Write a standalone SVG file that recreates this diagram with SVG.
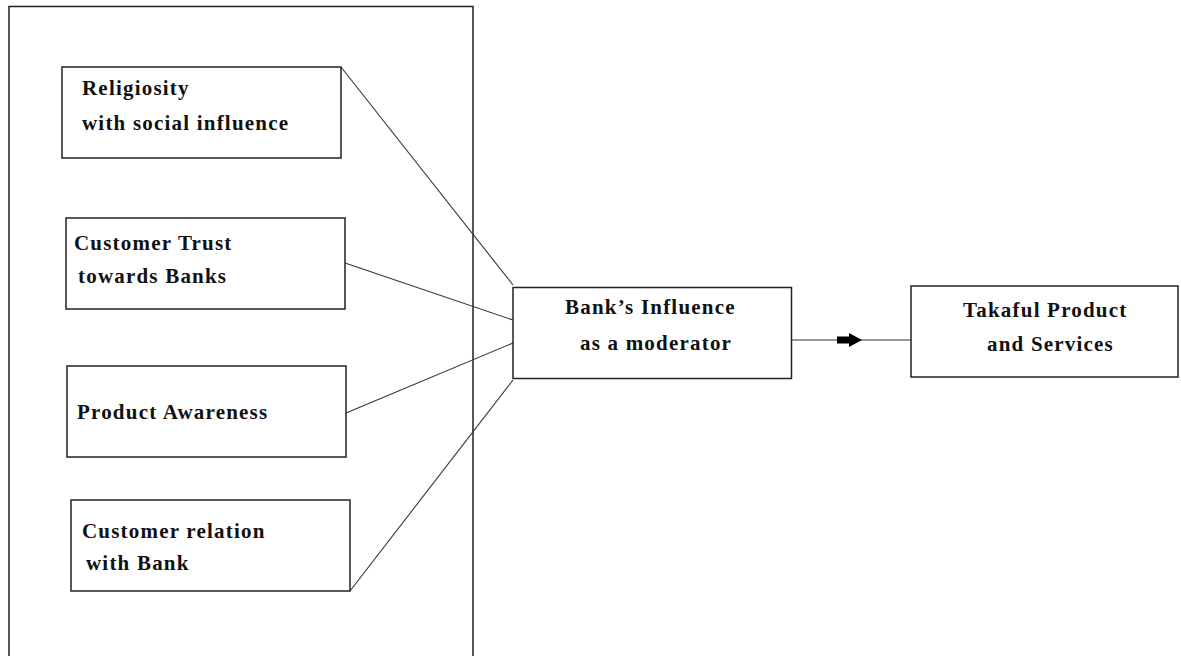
<svg xmlns="http://www.w3.org/2000/svg" width="1181" height="656" viewBox="0 0 1181 656">
<style>
.box{fill:#fff;stroke:#222;stroke-width:1.5}
.frame{fill:none;stroke:#222;stroke-width:1.5}
.lbl{font-family:"Liberation Serif","Times New Roman",serif;font-weight:bold;font-size:21px;letter-spacing:1.2px;fill:#111}
.conn{stroke:#333;stroke-width:1.1;fill:none}
</style>
<rect width="1181" height="656" fill="#fff"/>
<g id="frame"><path class="frame" d="M9,660 V6.5 H473 V660"/></g>
<g id="connectors">
<line class="conn" x1="341" y1="67" x2="513" y2="285"/>
<line class="conn" x1="345" y1="263" x2="513" y2="320"/>
<line class="conn" x1="346" y1="413" x2="513" y2="343"/>
<line class="conn" x1="350" y1="591" x2="513" y2="380"/>
<line class="conn" x1="792" y1="340" x2="911" y2="340"/>
<path d="M837,336.5 H849 V333 L862,340 L849,347 V343.5 H837 Z" fill="#000"/>
</g>
<g id="religiosity"><rect class="box" x="62" y="67" width="279" height="91"/>
<text class="lbl" x="82" y="95">Religiosity</text><text class="lbl" x="82" y="130">with social influence</text></g>
<g id="trust"><rect class="box" x="66" y="218" width="279" height="91"/>
<text class="lbl" x="74" y="250">Customer Trust</text><text class="lbl" x="78" y="283">towards Banks</text></g>
<g id="awareness"><rect class="box" x="67" y="366" width="279" height="91"/>
<text class="lbl" x="77" y="419">Product Awareness</text></g>
<g id="relation"><rect class="box" x="71" y="500" width="279" height="91"/>
<text class="lbl" x="82" y="538">Customer relation</text><text class="lbl" x="86" y="570">with Bank</text></g>
<g id="bank"><rect class="box" x="513" y="287.5" width="278.5" height="91"/>
<text class="lbl" x="565" y="314">Bank’s Influence</text><text class="lbl" x="580" y="350">as a moderator</text></g>
<g id="takaful"><rect class="box" x="911" y="286" width="267" height="91"/>
<text class="lbl" x="963" y="317">Takaful Product</text><text class="lbl" x="987" y="351">and Services</text></g>
</svg>
